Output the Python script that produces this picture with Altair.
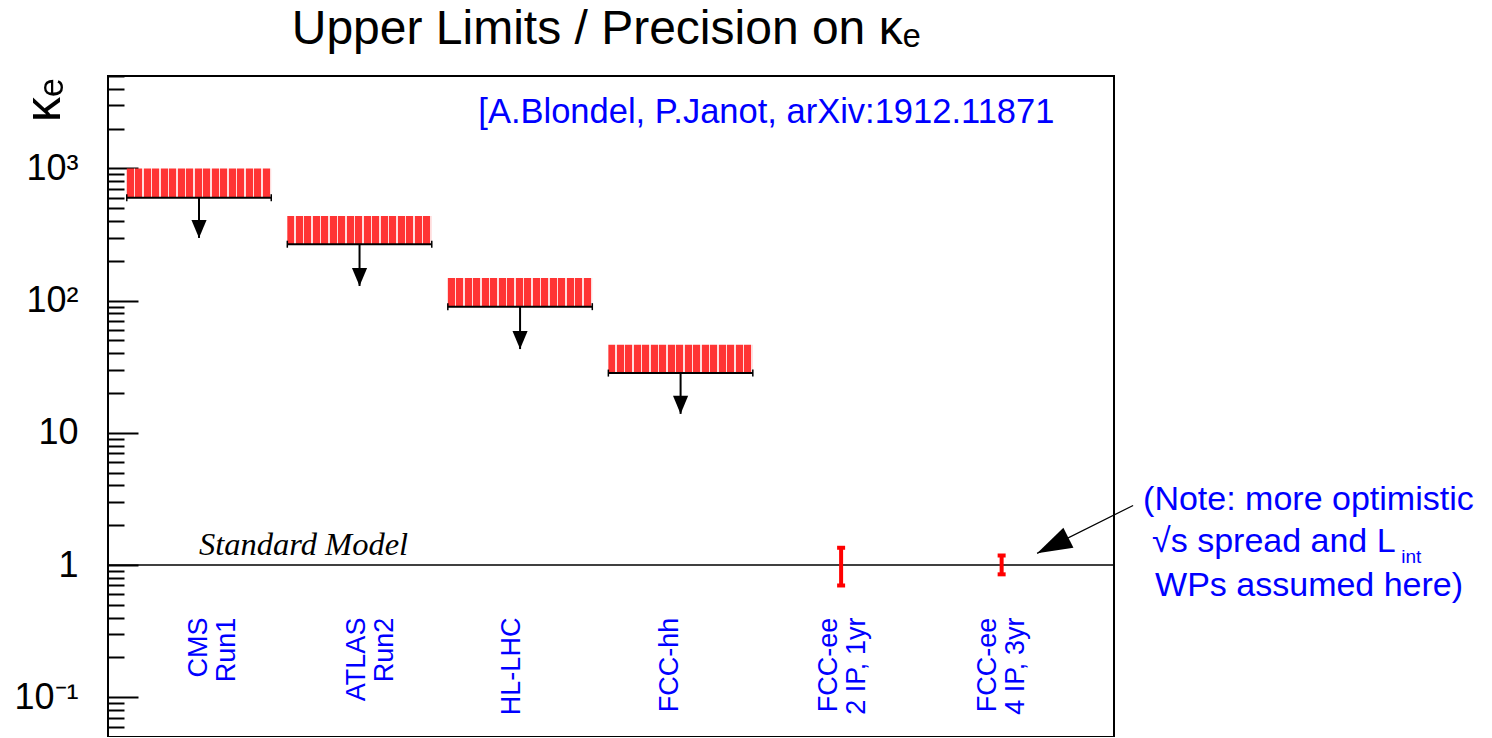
import altair as alt
import pandas as pd

# ---------------- data ----------------
categories = ["CMS\nRun1", "ATLAS\nRun2", "HL-LHC", "FCC-hh",
              "FCC-ee\n2 IP, 1yr", "FCC-ee\n4 IP, 3yr"]
label_pos = [0.997, 1.987, 2.95, 3.934, 4.925, 5.912]
label_y = [0.4, 0.4, 0.4, 0.4, 0.4, 0.4]

limit_pos = [1, 2, 3, 4]
limit_top = [1000, 437, 148, 46.4]
limit_bottom = [600, 267, 90, 28.3]
limit_arrow_tip = [298, 129, 43, 13.9]

prec_pos = [5, 6]
prec_lo = [0.70, 0.85]
prec_hi = [1.35, 1.18]

sm_value = [1.0]

ytick_values = [0.1, 1, 10, 100, 1000]
ytick_labels = ["10\u207b\u00b9", "1", "10", "10\u00b2", "10\u00b3"]

title_text = ["Upper Limits / Precision on \u03ba\u2091"]
title_pos = [(3.536, 8800)]
sm_text = ["Standard Model"]
sm_text_pos = [(1.0, 1.2)]
cite_text = ["[A.Blondel, P.Janot, arXiv:1912.11871"]
cite_pos = [(2.74, 2200)]

note_lines = ["(Note: more optimistic", "\u221as spread and L", "WPs assumed here)"]
note_x = [6.881, 6.937, 6.956]
note_y = [2.59, 1.247, 0.580]
note_sub = ["int"]
note_sub_pos = [(8.49, 1.03)]

note_arrow_tail = (6.819, 2.82)
note_arrow_tip = (6.221, 1.225)

# ---------------- style ----------------
XDOM = [0.433, 6.70]
YDOM = [0.05, 5000]
W, H = 1006, 661
HALF = 0.45
BLUE = "#0000ff"
RED = "#ff0000"
SANS = "Liberation Sans"

xs = alt.Scale(domain=XDOM, nice=False, zero=False)
ys = alt.Scale(type="log", domain=YDOM, nice=False)

# hatched-looking fill
N = 17
stops = []
for k in range(N):
    s = k / N
    stops += [alt.GradientStop(offset=s, color="#ff3434"),
              alt.GradientStop(offset=s + 0.8 / N, color="#ff3434"),
              alt.GradientStop(offset=s + 0.8 / N, color="#ffdcdc"),
              alt.GradientStop(offset=min(s + 0.999 / N, 1), color="#ffdcdc")]
hatch = alt.Gradient(gradient="linear", stops=stops, x1=0, x2=1, y1=0, y2=0)

# axes
label_expr = ""
for v, l in zip(ytick_values, ytick_labels):
    label_expr += f"datum.value == {v} ? '{l}' : "
label_expr += "''"

label_axis = alt.Axis(
    orient="left", values=ytick_values, labelExpr=label_expr,
    ticks=False, tickSize=0, domain=False, grid=False,
    labelFont=SANS, labelFontSize=36, labelColor="black", labelPadding=30,
    labelFlush=False, labelOverlap=False, labelBaseline="middle",
    title="\u03ba\u2091", titleFont=SANS, titleFontSize=50, titleFontWeight="normal",
    titleColor="black", titleAngle=270, titleAlign="right", titleBaseline="middle",
    titleX=-64, titleY=2,
)

minor_ticks = []
for d in range(-2, 4):
    for m in range(1, 10):
        v = m * 10 ** d
        if YDOM[0] - 1e-12 <= v <= YDOM[1] + 1e-9:
            minor_ticks.append(round(v, 6))
major_test = "indexof([" + ",".join(str(v) for v in ytick_values) + "], datum.value) >= 0"
tick_axis = alt.Axis(
    orient="right", offset=-W, values=minor_ticks, labels=False, domain=False,
    grid=False, ticks=True, tickColor="black", tickWidth=2, title=None,
    tickSize={"condition": {"test": major_test, "value": 30}, "value": 16},
)

# ---------------- tables ----------------
lim = pd.DataFrame({
    "pos": limit_pos, "top": limit_top, "bottom": limit_bottom, "tip": limit_arrow_tip,
})
lim["x0"] = lim["pos"] - HALF
lim["x1"] = lim["pos"] + HALF
caps = pd.DataFrame({
    "x": list(lim["x0"]) + list(lim["x1"]),
    "y": list(lim["bottom"]) * 2,
})
prec = pd.DataFrame({"pos": prec_pos, "lo": prec_lo, "hi": prec_hi})
prec_caps = pd.DataFrame({"pos": prec_pos * 2, "y": prec_lo + prec_hi})
sm = pd.DataFrame({"y": sm_value})
labels = pd.DataFrame({"x": label_pos, "y": label_y, "t": categories})


def txt_df(pos, text):
    return pd.DataFrame({"x": [p[0] for p in pos], "y": [p[1] for p in pos], "t": text})


ttl = txt_df(title_pos, title_text)
smt = txt_df(sm_text_pos, sm_text)
cite = txt_df(cite_pos, cite_text)
note = pd.DataFrame({"x": note_x, "y": note_y, "t": note_lines})
notesub = txt_df(note_sub_pos, note_sub)
narrow = pd.DataFrame({"x": [note_arrow_tail[0]], "y": [note_arrow_tail[1]],
                       "x2": [note_arrow_tip[0]], "y2": [note_arrow_tip[1]]})

X = lambda f: alt.X(f, scale=xs, axis=None)
Y = lambda f, axis=None: alt.Y(f, scale=ys, axis=axis)

boxes = alt.Chart(lim).mark_rect(fill=hatch, strokeWidth=0).encode(
    x=X("x0:Q"), x2="x1:Q", y=Y("top:Q", label_axis), y2="bottom:Q")
base_line = alt.Chart(lim).mark_rule(color="black", strokeWidth=2).encode(
    x=X("x0:Q"), x2="x1:Q", y=Y("bottom:Q"))
base_caps = alt.Chart(caps).mark_tick(orient="vertical", size=7, thickness=1.5, color="black",
                                      opacity=1).encode(x=X("x:Q"), y=Y("y:Q"))
shafts = alt.Chart(lim).mark_rule(color="black", strokeWidth=2).encode(
    x=X("pos:Q"), y=Y("bottom:Q"), y2="tip:Q")
heads = alt.Chart(lim).mark_point(shape="M0,0 L-0.42,-1 L0.42,-1 Z", filled=True, size=1300,
                                  color="black", opacity=1, strokeWidth=0).encode(
    x=X("pos:Q"), y=Y("tip:Q"))
sm_rule = alt.Chart(sm).mark_rule(color="black", strokeWidth=1.5).encode(y=Y("y:Q", tick_axis))
prec_bars = alt.Chart(prec).mark_rule(color=RED, strokeWidth=4).encode(
    x=X("pos:Q"), y=Y("lo:Q"), y2="hi:Q")
prec_cap = alt.Chart(prec_caps).mark_tick(orient="horizontal", size=8, thickness=4, color=RED,
                                          opacity=1).encode(x=X("pos:Q"), y=Y("y:Q"))
title_mark = alt.Chart(ttl).mark_text(font=SANS, fontSize=48, align="center",
                                      baseline="alphabetic", color="black").encode(
    x=X("x:Q"), y=Y("y:Q"), text="t:N")
sm_label = alt.Chart(smt).mark_text(font="Liberation Serif", fontStyle="italic", fontSize=32.5,
                                    align="left", baseline="alphabetic", color="black").encode(
    x=X("x:Q"), y=Y("y:Q"), text="t:N")
cite_label = alt.Chart(cite).mark_text(font=SANS, fontSize=34.5, align="left",
                                       baseline="alphabetic", color=BLUE).encode(
    x=X("x:Q"), y=Y("y:Q"), text="t:N")
cat_labels = alt.Chart(labels).mark_text(font=SANS, fontSize=27, angle=270, align="right",
                                         baseline="middle", lineBreak="\n", lineHeight=28,
                                         color=BLUE).encode(
    x=X("x:Q"), y=Y("y:Q"), text="t:N")
note_text = alt.Chart(note).mark_text(font=SANS, fontSize=34, align="left",
                                      baseline="alphabetic", color=BLUE).encode(
    x=X("x:Q"), y=Y("y:Q"), text="t:N")
note_subtext = alt.Chart(notesub).mark_text(font=SANS, fontSize=19, align="left",
                                            baseline="alphabetic", color=BLUE).encode(
    x=X("x:Q"), y=Y("y:Q"), text="t:N")
note_line = alt.Chart(narrow).mark_rule(color="black", strokeWidth=1.2).encode(
    x=X("x:Q"), y=Y("y:Q"), x2="x2:Q", y2="y2:Q")
note_head = alt.Chart(narrow).mark_point(shape="M0,0 L-0.32,-1 L0.32,-1 Z", filled=True,
                                         size=4900, angle=63.4, color="black", opacity=1,
                                         strokeWidth=0).encode(
    x=X("x2:Q"), y=Y("y2:Q"))

chart = alt.layer(
    boxes, base_line, base_caps, shafts, heads, sm_rule, prec_bars, prec_cap, title_mark,
    sm_label, cite_label, cat_labels, note_text, note_subtext, note_line, note_head,
).resolve_axis(y="independent").properties(
    width=W, height=H,
    padding={"left": 100, "top": 68, "right": 370, "bottom": 0},
    autosize=alt.AutoSizeParams(type="none"),
).configure(background="white").configure_view(stroke="black", strokeWidth=2)

chart.save("out.html", embed_options={"renderer": "svg", "actions": False})
